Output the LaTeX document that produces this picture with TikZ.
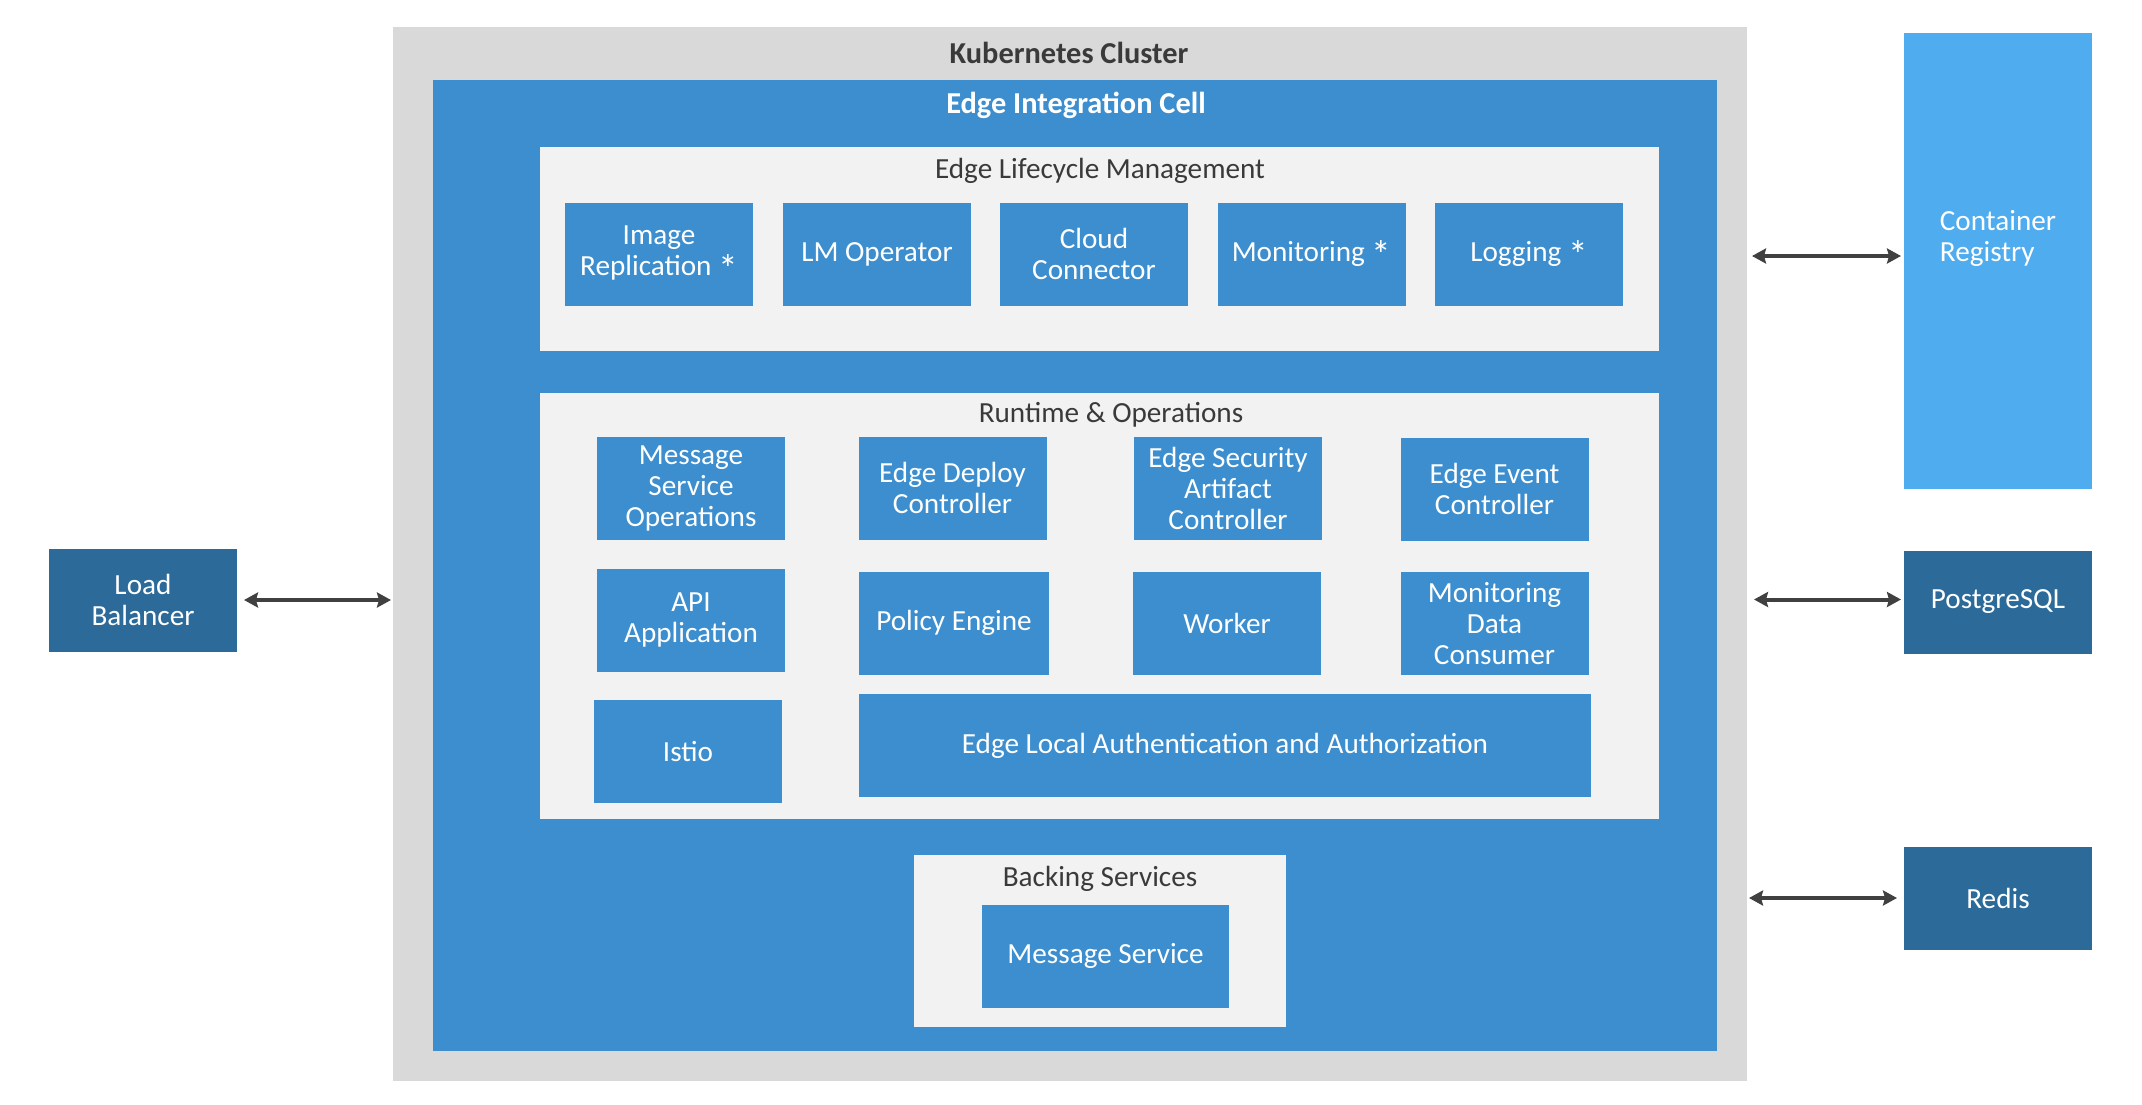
\documentclass[tikz,border=0pt]{standalone}
\usepackage{fontspec}
\setmainfont{Carlito}
\usepackage{xcolor}
\usepackage{tikz}
\usetikzlibrary{arrows.meta}
\definecolor{kgray}{HTML}{D9D9D9}
\definecolor{cellblue}{HTML}{3C8ECF}
\definecolor{panel}{HTML}{F2F2F2}
\definecolor{regblue}{HTML}{4FACEE}
\definecolor{extblue}{HTML}{2B6A99}
\definecolor{arrowc}{HTML}{404040}
\definecolor{ttlc}{HTML}{3A3A3A}
\newcommand{\optmark}{\raisebox{-0.5ex}{\scalebox{1.35}{*}}}
\tikzset{
  frame/.style={rectangle, inner sep=0pt, outer sep=0pt},
  cluster/.style={frame, fill=kgray},
  cell/.style={frame, fill=cellblue},
  panelbox/.style={frame, fill=panel},
  comp/.style={frame, fill=cellblue, text=white, align=center,
    font=\fontsize{14.6}{15.5}\selectfont, minimum width=94pt, minimum height=51.5pt},
  ext/.style={comp, fill=extblue},
  ttl/.style={text=ttlc, font=\fontsize{14.6}{16}\selectfont},
  ttlb/.style={text=ttlc, font=\fontsize{15.2}{16}\selectfont\bfseries},
  link/.style={draw=arrowc, line width=2pt,
    {Stealth[length=7pt,width=7.5pt,inset=1pt]}-{Stealth[length=7pt,width=7.5pt,inset=1pt]}},
}

\begin{document}
\begin{tikzpicture}[x=0.5pt,y=-0.5pt]
  \useasboundingbox (0,0) rectangle (2142,1104);

  % containers
  \node[cluster, minimum width=677pt, minimum height=527pt] (k8s) at (1070,554) {};
  \node[cell, minimum width=641.75pt, minimum height=485.75pt] (eic) at (1074.75,565.25) {};
  \node[panelbox, minimum width=559.5pt, minimum height=102pt] (elm) at (1099.5,248.5) {};
  \node[panelbox, minimum width=559.5pt, minimum height=213pt] (rto) at (1099.5,606) {};
  \node[panelbox, minimum width=186pt, minimum height=86pt] (bks) at (1100,941) {};

  \node[ttlb] at (1069,53) {Kubernetes Cluster};
  \node[ttlb, text=white] at (1076,105) {Edge Integration Cell};
  \node[ttl] at (1100,171) {Edge Lifecycle Management};
  \node[ttl] at (1111,415) {Runtime \& Operations};
  \node[ttl] at (1100,879) {Backing Services};

  % lifecycle management
  \node[comp] (imgrep) at (659,254) {Image\\Replication \optmark};
  \node[comp] (lmop) at (877,254) {LM Operator};
  \node[comp] (cloud) at (1094,254) {Cloud\\Connector};
  \node[comp] (mon) at (1311.5,254) {Monitoring \optmark};
  \node[comp] (log) at (1529,254) {Logging \optmark};

  % runtime
  \node[comp] (mso) at (691,488) {Message\\Service\\Operations};
  \node[comp] (edc) at (952.5,488) {Edge Deploy\\Controller};
  \node[comp] (esac) at (1228,488) {Edge Security\\Artifact\\Controller};
  \node[comp] (eec) at (1494.5,489) {Edge Event\\Controller};
  \node[comp] (api) at (691,620) {API\\Application};
  \node[comp, minimum width=95pt] (pol) at (954,623) {Policy Engine};
  \node[comp] (wrk) at (1227,623.5) {Worker};
  \node[comp] (mdc) at (1494.5,623.5) {Monitoring\\Data\\Consumer};
  \node[comp] (istio) at (688,751) {Istio};
  \node[comp, minimum width=366.25pt] (auth) at (1225,745.5) {Edge Local Authentication and Authorization};

  % backing services
  \node[comp, minimum width=123.5pt] (msg) at (1105.5,956) {Message Service};

  % outside the cluster
  \node[ext] (lb) at (143,600) {Load\\Balancer};
  \node[frame, fill=regblue, minimum width=94pt, minimum height=228.3pt] (reg) at (1998,261) {};
  \node[text=white, align=left, font=\fontsize{14.6}{15.5}\selectfont] at (1998,238) {Container\\Registry};
  \node[ext] (pg) at (1998,602) {PostgreSQL};
  \node[ext] (redis) at (1998,898) {Redis};

  \draw[link, shorten <=3.5pt, shorten >=1pt] (lb.east) -- (lb.east -| k8s.west);
  \draw[link, shorten <=2.5pt, shorten >=1.5pt] ([yshift=2.5pt]reg.west -| k8s.east) -- ([yshift=2.5pt]reg.west);
  \draw[link, shorten <=3.5pt, shorten >=1.5pt] ([yshift=1.25pt]pg.west -| k8s.east) -- ([yshift=1.25pt]pg.west);
  \draw[link, shorten <=1pt, shorten >=3.5pt] (redis.west -| k8s.east) -- (redis.west);
\end{tikzpicture}
\end{document}
